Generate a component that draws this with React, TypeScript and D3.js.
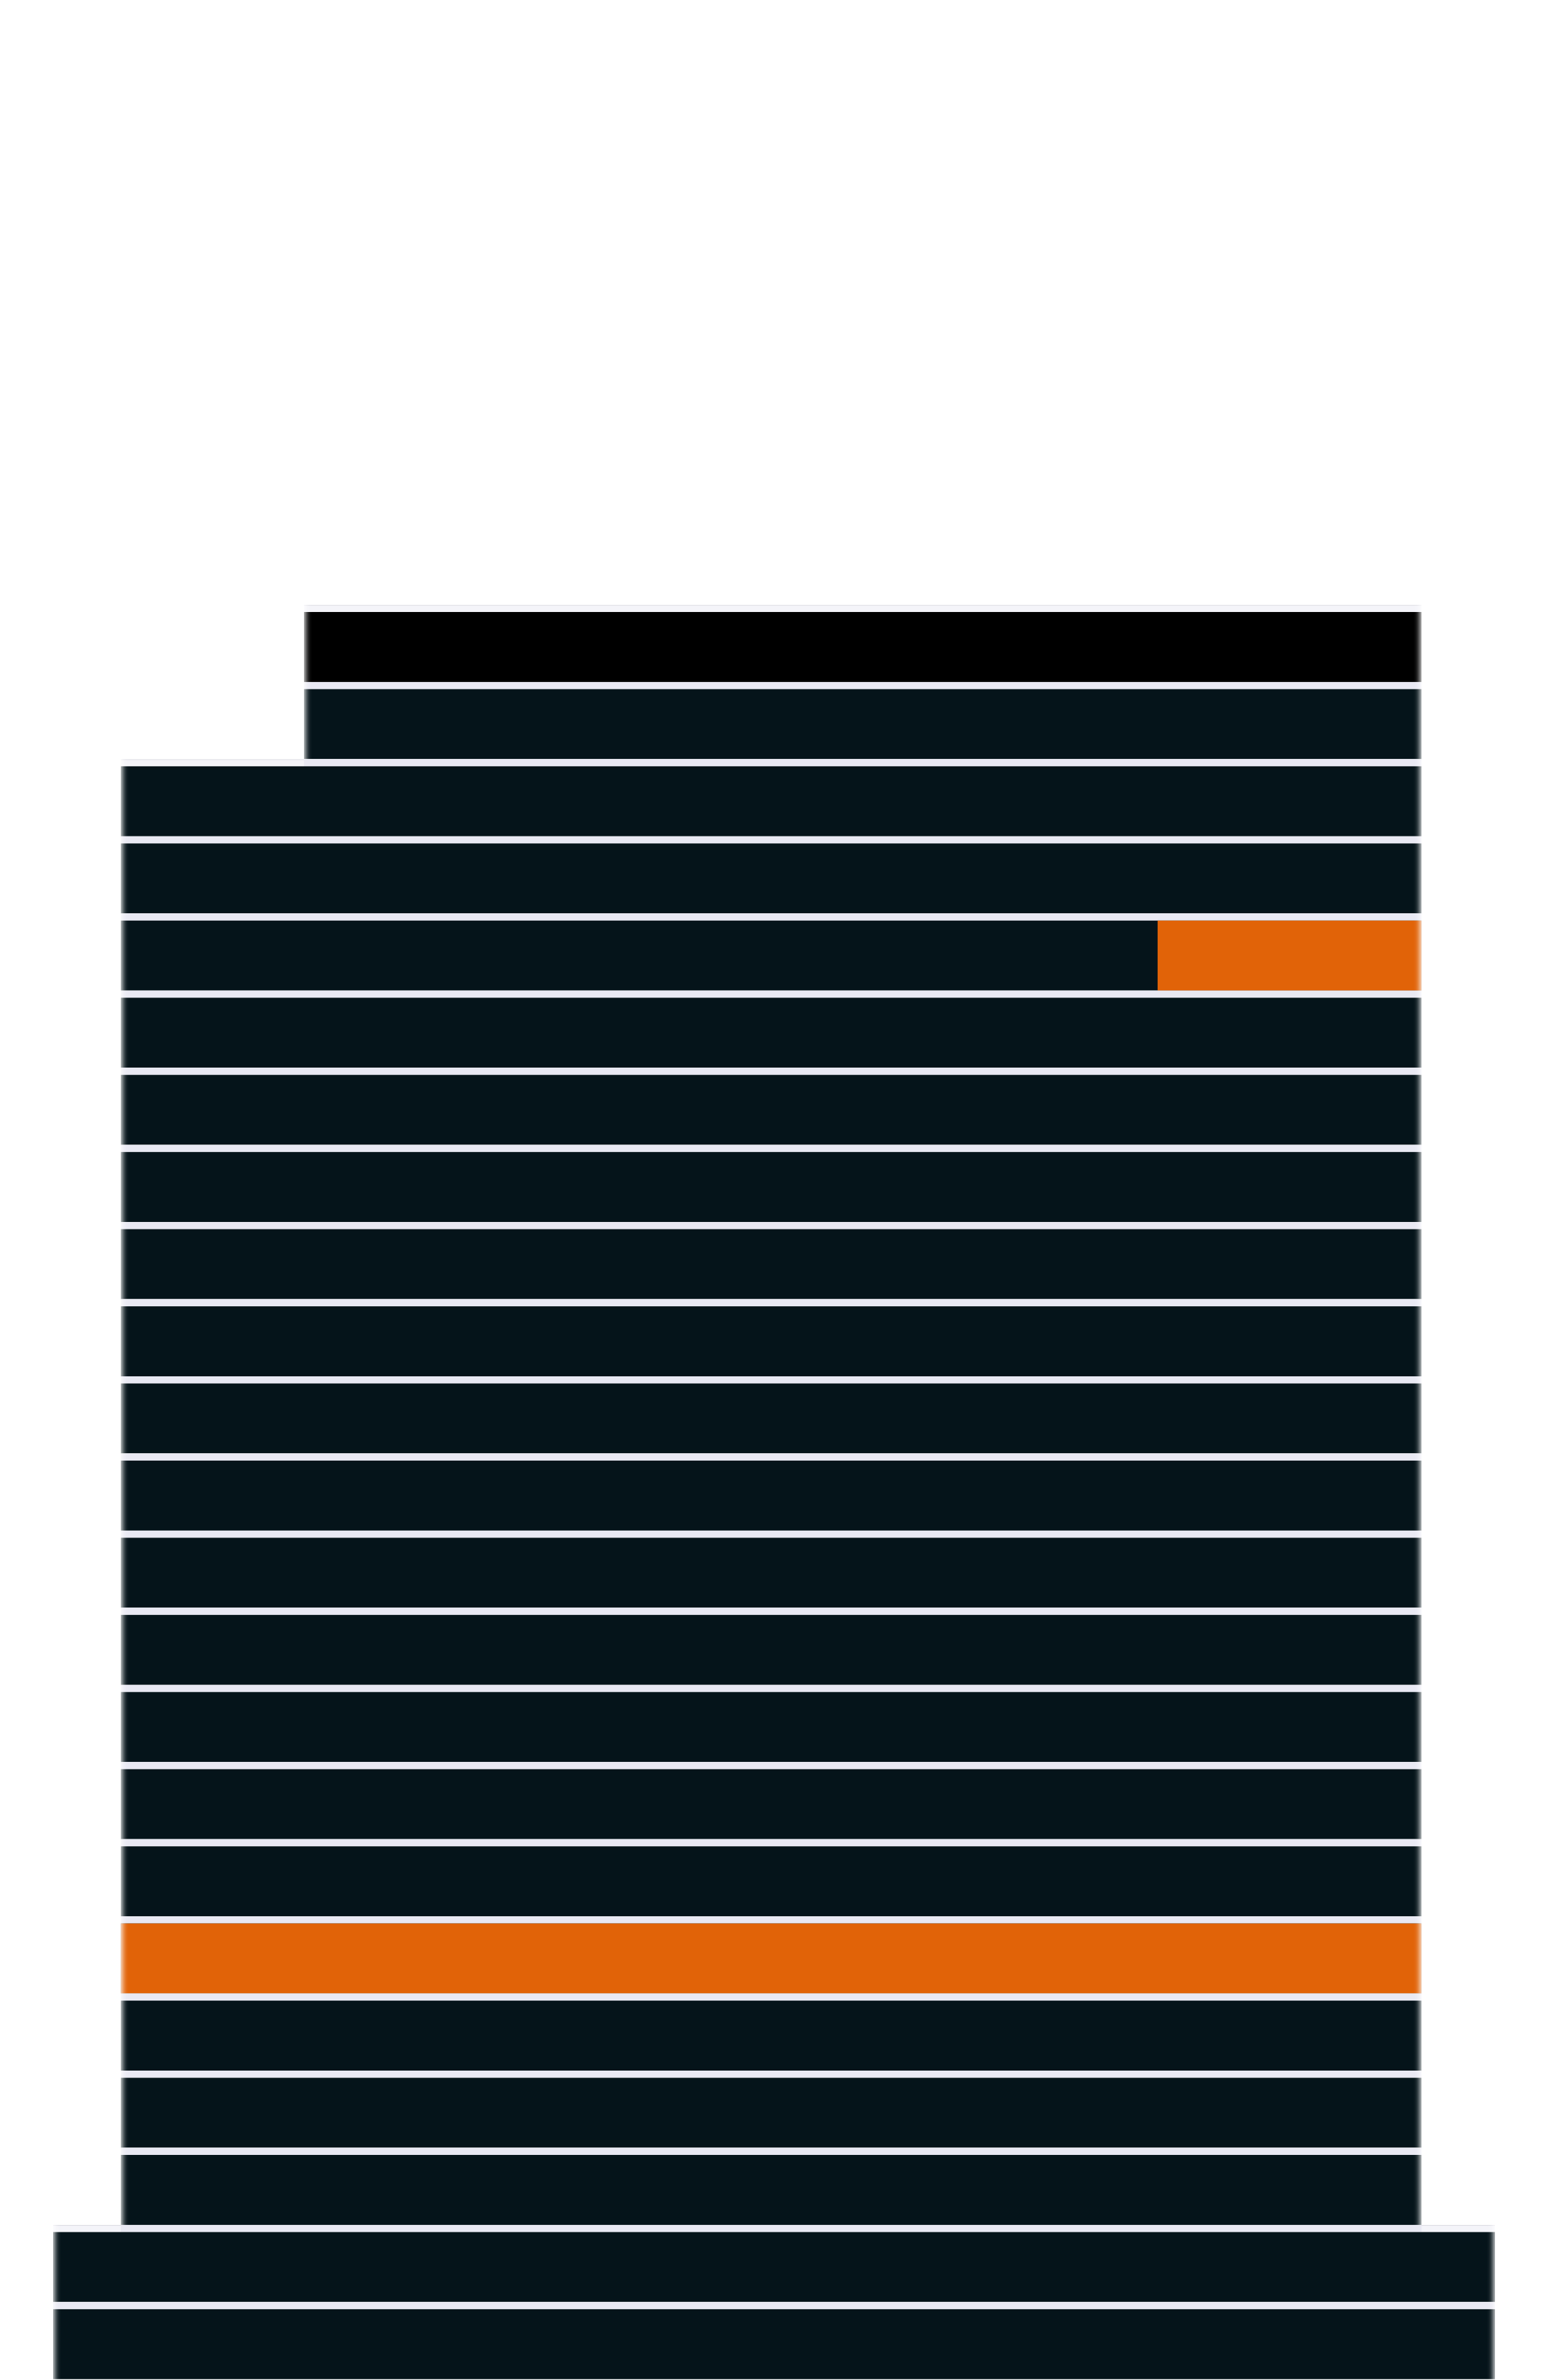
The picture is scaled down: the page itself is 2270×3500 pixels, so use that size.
import * as d3 from "d3";

// Floors from top to bottom
const floors = [
  "23", "22", "21", "20", "19", "18", "17", "16", "15", "14", "13", "12",
  "11", "10", "9", "8", "7", "6", "5", "4", "3", "2", "1",
];

// Extent of each floor on a 0–100 width scale
const floorLeft = [
  17.4, 17.4, 4.7, 4.7, 4.7, 4.7, 4.7, 4.7, 4.7, 4.7, 4.7, 4.7,
  4.7, 4.7, 4.7, 4.7, 4.7, 4.7, 4.7, 4.7, 4.7, 0, 0,
];
const floorRight = [
  94.9, 94.9, 94.9, 94.9, 94.9, 94.9, 94.9, 94.9, 94.9, 94.9, 94.9, 94.9,
  94.9, 94.9, 94.9, 94.9, 94.9, 94.9, 94.9, 94.9, 94.9, 100, 100,
];

// Where the highlighted (orange) part of a floor begins, null = none
const highlightFrom: (number | null)[] = [
  null, null, null, null, 76.6, null, null, null, null, null, null, null,
  null, null, null, null, null, 4.7, null, null, null, null, null,
];

const W = 2270;
const H = 3500;
const GAP = 10.5;

const DARK = "#05141a";
const ROOF = "#000000";
const ORANGE = "#e16308";
const GAP_COLOR = "#e9e9f3";
const GAP_OPEN = "#f4f4f9";

export default function App() {
  const x = d3.scaleLinear().domain([0, 100]).range([78, 2198]);
  const y = d3
    .scaleBand<string>()
    .domain(floors)
    .range([889.5, 889.5 + floors.length * 113.45])
    .padding(0);
  const step = y.step();

  return (
    <svg
      width={W}
      height={H}
      style={{ position: "absolute", left: 0, top: 0, background: "#ffffff" }}
    >
      <defs>
        <filter id="hblur" x="-5%" y="-5%" width="110%" height="110%">
          <feGaussianBlur stdDeviation="4.2 0" />
        </filter>
        {floors.map((f, i) => (
          <mask
            key={f}
            id={`m-${i}`}
            maskUnits="userSpaceOnUse"
            x={0}
            y={0}
            width={W}
            height={H}
          >
            <rect
              x={x(floorLeft[i]) + 2}
              y={y(f)!}
              width={x(floorRight[i]) - x(floorLeft[i]) - 4}
              height={step}
              fill="#fff"
              filter="url(#hblur)"
            />
          </mask>
        ))}
      </defs>
      {floors.map((f, i) => {
        const x0 = x(floorLeft[i]);
        const x1 = x(floorRight[i]);
        const top = y(f)!;
        const hl = highlightFrom[i];
        // overlap with the floor above gets the darker gap colour
        const ox0 = i > 0 ? Math.max(x0, x(floorLeft[i - 1])) : 0;
        const ox1 = i > 0 ? Math.min(x1, x(floorRight[i - 1])) : 0;
        return (
          <g key={f} mask={`url(#m-${i})`}>
            <rect x={x0} y={top} width={x1 - x0} height={GAP} fill={GAP_OPEN} />
            <rect x={x0} y={top} width={x1 - x0} height={1.2} fill="#dcdce3" />
            {i > 0 && ox1 > ox0 && (
              <rect x={ox0} y={top} width={ox1 - ox0} height={GAP} fill={GAP_COLOR} />
            )}
            <rect
              x={x0}
              y={top + GAP}
              width={x1 - x0}
              height={step - GAP}
              fill={i === 0 ? ROOF : DARK}
            />
            {hl !== null && (
              <rect
                x={x(hl)}
                y={top + GAP}
                width={x1 - x(hl)}
                height={step - GAP}
                fill={ORANGE}
              />
            )}
          </g>
        );
      })}
    </svg>
  );
}
